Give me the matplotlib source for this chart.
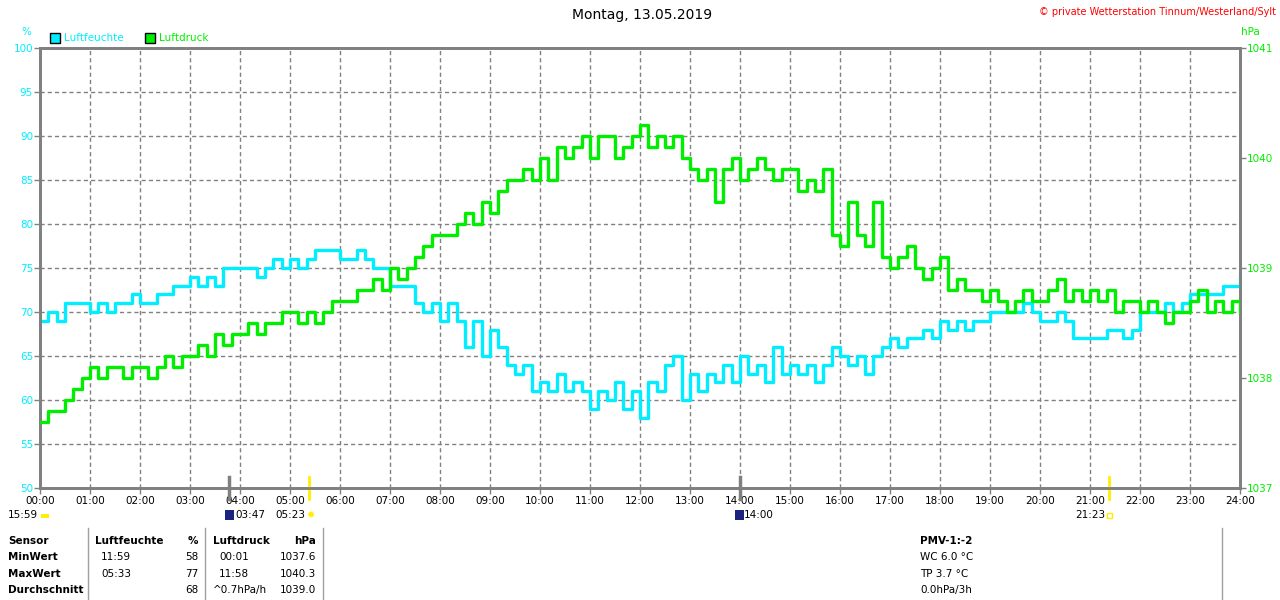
import matplotlib
matplotlib.use("Agg")
import matplotlib.pyplot as plt
from matplotlib.patches import Rectangle

# 10-minute readings, 00:00 .. 24:00
hours = [i / 6 for i in range(145)]

humidity = [
    69, 70, 69, 71, 71, 71, 70, 71, 70, 71, 71, 72,
    71, 71, 72, 72, 73, 73, 74, 73, 74, 73, 75, 75,
    75, 75, 74, 75, 76, 75, 76, 75, 76, 77, 77, 77,
    76, 76, 77, 76, 75, 75, 73, 73, 73, 71, 70, 71,
    69, 71, 69, 66, 69, 65, 68, 66, 64, 63, 64, 61,
    62, 61, 63, 61, 62, 61, 59, 61, 60, 62, 59, 61,
    58, 62, 61, 64, 65, 60, 63, 61, 63, 62, 64, 62,
    65, 63, 64, 62, 66, 63, 64, 63, 64, 62, 64, 66,
    65, 64, 65, 63, 65, 66, 67, 66, 67, 67, 68, 67,
    69, 68, 69, 68, 69, 69, 70, 70, 70, 70, 71, 70,
    69, 69, 70, 69, 67, 67, 67, 67, 68, 68, 67, 68,
    70, 70, 70, 71, 70, 71, 72, 72, 72, 72, 73, 73,
    74,
]

pressure = [
    1037.6, 1037.7, 1037.7, 1037.8, 1037.9, 1038.0, 1038.1, 1038.0, 1038.1, 1038.1, 1038.0, 1038.1,
    1038.1, 1038.0, 1038.1, 1038.2, 1038.1, 1038.2, 1038.2, 1038.3, 1038.2, 1038.4, 1038.3, 1038.4,
    1038.4, 1038.5, 1038.4, 1038.5, 1038.5, 1038.6, 1038.6, 1038.5, 1038.6, 1038.5, 1038.6, 1038.7,
    1038.7, 1038.7, 1038.8, 1038.8, 1038.9, 1038.8, 1039.0, 1038.9, 1039.0, 1039.1, 1039.2, 1039.3,
    1039.3, 1039.3, 1039.4, 1039.5, 1039.4, 1039.6, 1039.5, 1039.7, 1039.8, 1039.8, 1039.9, 1039.8,
    1040.0, 1039.8, 1040.1, 1040.0, 1040.1, 1040.2, 1040.0, 1040.2, 1040.2, 1040.0, 1040.1, 1040.2,
    1040.3, 1040.1, 1040.2, 1040.1, 1040.2, 1040.0, 1039.9, 1039.8, 1039.9, 1039.6, 1039.9, 1040.0,
    1039.8, 1039.9, 1040.0, 1039.9, 1039.8, 1039.9, 1039.9, 1039.7, 1039.8, 1039.7, 1039.9, 1039.3,
    1039.2, 1039.6, 1039.3, 1039.2, 1039.6, 1039.1, 1039.0, 1039.1, 1039.2, 1039.0, 1038.9, 1039.0,
    1039.1, 1038.8, 1038.9, 1038.8, 1038.8, 1038.7, 1038.8, 1038.7, 1038.6, 1038.7, 1038.8, 1038.7,
    1038.7, 1038.8, 1038.9, 1038.7, 1038.8, 1038.7, 1038.8, 1038.7, 1038.8, 1038.6, 1038.7, 1038.7,
    1038.6, 1038.7, 1038.6, 1038.5, 1038.6, 1038.6, 1038.7, 1038.8, 1038.6, 1038.7, 1038.6, 1038.7,
    1038.6,
]

hum_ticks = list(range(50, 101, 5))
pres_ticks = [1037, 1038, 1039, 1040, 1041]
hour_labels = [f"{h:02d}:00" for h in range(25)]

# sun / moon events (hours)
sunrise, sunset = 5 + 23 / 60, 21 + 23 / 60
moonrise, moonset = 3 + 47 / 60, 14.0

# table below the plot
table_rows = ["Sensor", "MinWert", "MaxWert", "Durchschnitt"]
hum_col = [("Luftfeuchte", "%"), ("11:59", "58"), ("05:33", "77"), ("", "68")]
pres_col = [("Luftdruck", "hPa"), ("00:01", "1037.6"), ("11:58", "1040.3"), ("^0.7hPa/h", "1039.0")]
pmv_lines = ["PMV-1:-2", "WC 6.0 °C", "TP 3.7 °C", "0.0hPa/3h"]

CYAN = "#00eeff"
GREEN = "#00ee00"
GRAY = "#808080"

W, H = 1280, 600
fig = plt.figure(figsize=(12.8, 6), dpi=100)
fig.patch.set_facecolor("white")


def fx(px):
    return px / W


def fy(py):
    return 1 - py / H


ax = fig.add_axes([fx(40), fy(488), 1200 / W, 440 / H])
ax2 = ax.twinx()

ax.plot(hours, humidity, drawstyle="steps-post", color=CYAN, lw=2.4, zorder=3)
ax2.plot(hours, pressure, drawstyle="steps-post", color=GREEN, lw=2.4, zorder=3)

ax.set_xlim(0, 24)
ax.set_ylim(50, 100)
ax2.set_ylim(1037, 1041)
ax.set_xticks(range(25))
ax.set_xticklabels(hour_labels)
ax.set_yticks(hum_ticks)
ax2.set_yticks(pres_ticks)

ax.tick_params(axis="x", length=4, width=1, color=GRAY, labelsize=7.5, pad=2)
ax.tick_params(axis="y", length=4, width=1, color=GRAY, labelsize=7.5, labelcolor=CYAN, pad=1)
ax2.tick_params(axis="y", length=4, width=1, color=GRAY, labelsize=7.5, labelcolor=GREEN, pad=1)

ax.grid(True, ls=(0, (3, 2.2)), color=GRAY, lw=1)
for a in (ax, ax2):
    for s in a.spines.values():
        s.set_color(GRAY)
        s.set_linewidth(2)

# sun / moon markers on the time axis
for t, c, lw in [(sunrise, "#ffee00", 2), (sunset, "#ffee00", 2), (moonrise, GRAY, 2.5), (moonset, GRAY, 2.5)]:
    ax.plot([t, t], [48.8, 51.2], color=c, lw=lw, clip_on=False, zorder=5)

fig.text(fx(642), fy(15), "Montag, 13.05.2019", ha="center", va="center", fontsize=10)
fig.text(fx(1276), fy(12), "© private Wetterstation Tinnum/Westerland/Sylt",
         ha="right", va="center", fontsize=7, color="red")
fig.text(fx(26), fy(32), "%", ha="center", va="center", fontsize=7.5, color=CYAN)
fig.text(fx(1250), fy(32), "hPa", ha="center", va="center", fontsize=7.5, color=GREEN)

# legend
for x0, col, lab in [(50, CYAN, "Luftfeuchte"), (145, GREEN, "Luftdruck")]:
    fig.patches.append(Rectangle((fx(x0), fy(43)), 10 / W, 10 / H, transform=fig.transFigure,
                                 facecolor=col, edgecolor="black", lw=1))
    fig.text(fx(x0 + 14), fy(38), lab, ha="left", va="center", fontsize=7.5, color=col)

# event times under the axis
ev_y = fy(515)
fig.text(fx(38), ev_y, "15:59", ha="right", va="center", fontsize=7.5)
fig.patches.append(Rectangle((fx(41), fy(518)), 8 / W, 4 / H, transform=fig.transFigure,
                             facecolor="#ffee00", edgecolor="none"))
fig.patches.append(Rectangle((fx(225), fy(520)), 9 / W, 10 / H, transform=fig.transFigure,
                             facecolor="#1a237e", edgecolor="none"))
fig.text(fx(235), ev_y, "03:47", ha="left", va="center", fontsize=7.5)
fig.text(fx(305), ev_y, "05:23", ha="right", va="center", fontsize=7.5)
fig.text(fx(311), ev_y, "✹", ha="center", va="center", fontsize=7, color="#ffee00")
fig.patches.append(Rectangle((fx(735), fy(520)), 9 / W, 10 / H, transform=fig.transFigure,
                             facecolor="#1a237e", edgecolor="none"))
fig.text(fx(744), ev_y, "14:00", ha="left", va="center", fontsize=7.5)
fig.text(fx(1105), ev_y, "21:23", ha="right", va="center", fontsize=7.5)
fig.patches.append(Rectangle((fx(1107), fy(518)), 5 / W, 5 / H, transform=fig.transFigure,
                             facecolor="none", edgecolor="#ffee00", lw=1))

# table
row_y = [541, 557, 574, 590]
for i, (name, y) in enumerate(zip(table_rows, row_y)):
    fig.text(fx(8), fy(y), name, ha="left", va="center", fontsize=7.5, fontweight="bold")
    t1, v1 = hum_col[i]
    t2, v2 = pres_col[i]
    w = "bold" if i == 0 else "normal"
    fig.text(fx(95 if i == 0 else 101), fy(y), t1, ha="left", va="center", fontsize=7.5, fontweight=w)
    fig.text(fx(198), fy(y), v1, ha="right", va="center", fontsize=7.5, fontweight=w)
    fig.text(fx(213 if i in (0, 3) else 219), fy(y), t2, ha="left", va="center", fontsize=7.5, fontweight=w)
    fig.text(fx(316), fy(y), v2, ha="right", va="center", fontsize=7.5, fontweight=w)
    fig.text(fx(920), fy(y), pmv_lines[i], ha="left", va="center", fontsize=7.5, fontweight=w)

for xl in (88, 205, 323, 1222):
    fig.add_artist(plt.Line2D([fx(xl), fx(xl)], [fy(528), fy(600)], color="#a0a0a0", lw=1))

fig.savefig("out.png", dpi=100)
